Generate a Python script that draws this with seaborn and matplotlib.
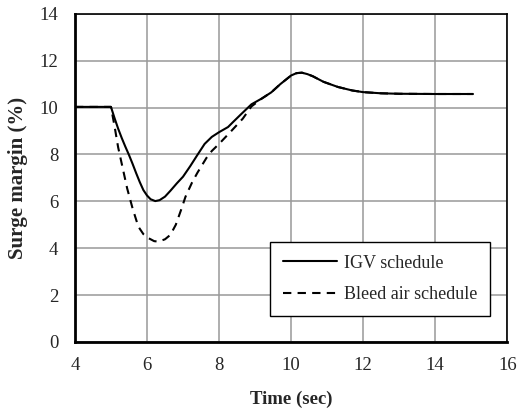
import numpy as np
import pandas as pd
import seaborn as sns
import matplotlib.pyplot as plt
from matplotlib.ticker import MultipleLocator

# IGV schedule response
igv_time = [4.0, 5.0, 5.1, 5.2, 5.3, 5.4, 5.5, 5.6, 5.7, 5.8, 5.9, 6.0, 6.1, 6.23,
            6.35, 6.5, 6.65, 6.83, 7.0, 7.2, 7.4, 7.6, 7.8, 8.0, 8.25, 8.4, 8.6,
            8.9, 9.2, 9.45, 9.7, 10.0, 10.15, 10.3, 10.45, 10.6, 10.9, 11.3, 11.7,
            12.0, 12.5, 13.0, 14.0, 15.05]
igv_margin = [10.03, 10.03, 9.55, 9.1, 8.7, 8.33, 7.98, 7.6, 7.2, 6.82, 6.48,
              6.25, 6.09, 6.01, 6.05, 6.2, 6.45, 6.77, 7.05, 7.5, 7.98, 8.45,
              8.75, 8.95, 9.17, 9.4, 9.7, 10.14, 10.4, 10.65, 11.0, 11.37, 11.47,
              11.49, 11.43, 11.34, 11.1, 10.88, 10.73, 10.66, 10.61, 10.59,
              10.58, 10.58]

# Bleed air schedule response
bleed_time = [4.0, 5.0, 5.1, 5.2, 5.3, 5.45, 5.6, 5.76, 5.9, 6.04, 6.2, 6.32, 6.5,
              6.65, 6.8, 6.95, 7.07, 7.25, 7.4, 7.65, 7.8, 8.0, 8.34, 8.66, 8.9,
              9.2, 9.45, 9.7, 10.0, 10.15, 10.3, 10.45, 10.6, 10.9, 11.3, 11.7,
              12.0, 12.5, 13.0, 14.0, 15.05]
bleed_margin = [10.03, 10.03, 9.2, 8.3, 7.6, 6.55, 5.7, 4.92, 4.6, 4.43, 4.3, 4.28,
                4.38, 4.57, 5.0, 5.65, 6.2, 6.8, 7.22, 7.85, 8.15, 8.45, 9.0, 9.53,
                10.05, 10.4, 10.65, 11.0, 11.37, 11.47, 11.49, 11.43, 11.34, 11.1,
                10.88, 10.73, 10.66, 10.61, 10.59, 10.58, 10.58]

series_names = ["IGV schedule", "Bleed air schedule"]

df = pd.concat([
    pd.DataFrame({"Time": igv_time, "Margin": igv_margin, "Schedule": series_names[0]}),
    pd.DataFrame({"Time": bleed_time, "Margin": bleed_margin, "Schedule": series_names[1]}),
])

sns.set_style("white")
plt.rcParams["font.family"] = ["Liberation Serif", "DejaVu Serif"]

fig = plt.figure(figsize=(5.24, 4.08), dpi=100)
ax = fig.add_axes([0.143, 0.162, 0.825, 0.804])

sns.lineplot(data=df, x="Time", y="Margin", hue="Schedule", style="Schedule",
             palette=["black", "black"], dashes=[(None, None), (4, 3)],
             linewidth=1.5, sort=False, ax=ax)

ax.set_xlim(4, 16)
ax.set_ylim(0, 14)
ax.xaxis.set_major_locator(MultipleLocator(2))
ax.yaxis.set_major_locator(MultipleLocator(2))
ax.xaxis.set_minor_locator(MultipleLocator(0.4))
ax.yaxis.set_minor_locator(MultipleLocator(0.4))
ax.grid(True, which="major", color="#999999", linewidth=1.1)
ax.set_axisbelow(True)

ax.tick_params(which="both", direction="in", top=False, right=False,
               labelsize=13.5, color="black")
ax.tick_params(which="major", length=5, width=1.2)
ax.tick_params(axis="x", which="major", pad=11)
ax.tick_params(axis="y", which="major", pad=12)
ax.tick_params(which="minor", length=4, width=1.0)

for side in ["top", "right"]:
    ax.spines[side].set_linewidth(1.2)
    ax.spines[side].set_color("black")
for side in ["left", "bottom"]:
    ax.spines[side].set_linewidth(2.0)
    ax.spines[side].set_color("black")

ax.set_xlabel("Time (sec)", fontsize=13.5, fontweight="bold", labelpad=12)
ax.set_ylabel("Surge margin (%)", fontsize=15, fontweight="bold", labelpad=8)

leg = ax.legend(loc="lower right", bbox_to_anchor=(0.96, 0.08), fontsize=13,
                frameon=True, fancybox=False, edgecolor="black", framealpha=1,
                handlelength=3.0, handletextpad=0.4, borderpad=0.7,
                labelspacing=0.8, borderaxespad=0)
leg.get_frame().set_linewidth(1.0)
for line in leg.get_lines():
    line.set_linewidth(1.5)
leg.set_title(None)

fig.savefig("out.png", dpi=100)
